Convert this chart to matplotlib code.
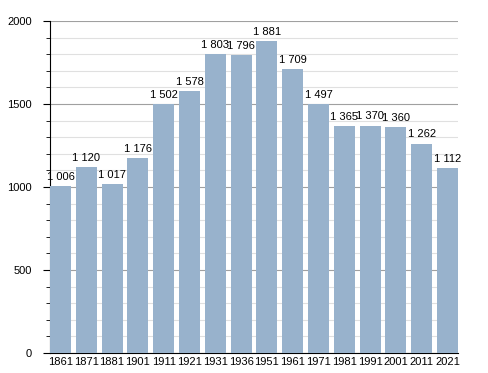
import matplotlib.pyplot as plt
from matplotlib.ticker import MultipleLocator

plt.rcParams['font.family'] = ['Liberation Sans', 'DejaVu Sans']

years = ['1861', '1871', '1881', '1901', '1911', '1921', '1931', '1936',
         '1951', '1961', '1971', '1981', '1991', '2001', '2011', '2021']
population = [1006, 1120, 1017, 1176, 1502, 1578, 1803, 1796,
              1881, 1709, 1497, 1365, 1370, 1360, 1262, 1112]

fig = plt.figure(figsize=(4.88, 3.73), dpi=100)
ax = fig.add_axes([50 / 488, 20 / 373, 408 / 488, 332 / 373])

x = range(len(years))
w = 0.81
ax.bar(x, population, width=w, color='#98b2cc', zorder=3)

for i, v in enumerate(population):
    lab = '{:,}'.format(v).replace(',', ' ')
    ax.annotate(lab, (i, v), xytext=(0, 3), textcoords='offset points',
                ha='center', va='bottom', fontsize=8, zorder=4)

ax.set_xlim(-w / 2, len(years) - 1 + w / 2)
ax.set_ylim(0, 2000)
ax.set_xticks(list(x))
ax.set_xticklabels(years)
ax.yaxis.set_major_locator(MultipleLocator(500))
ax.yaxis.set_minor_locator(MultipleLocator(100))
ax.grid(axis='y', which='major', color='#a0a0a0', linewidth=0.8, zorder=0)
ax.grid(axis='y', which='minor', color='#e0e0e0', linewidth=0.8, zorder=0)
ax.set_axisbelow(True)

for s in ['top', 'right']:
    ax.spines[s].set_visible(False)
ax.spines['left'].set_color('black')
ax.spines['bottom'].set_color('black')
ax.tick_params(axis='x', length=0, labelsize=8, pad=3)
ax.tick_params(axis='y', which='major', length=5, labelsize=8, pad=8)
ax.tick_params(axis='y', which='minor', length=3)

fig.savefig('out.png', dpi=100)
